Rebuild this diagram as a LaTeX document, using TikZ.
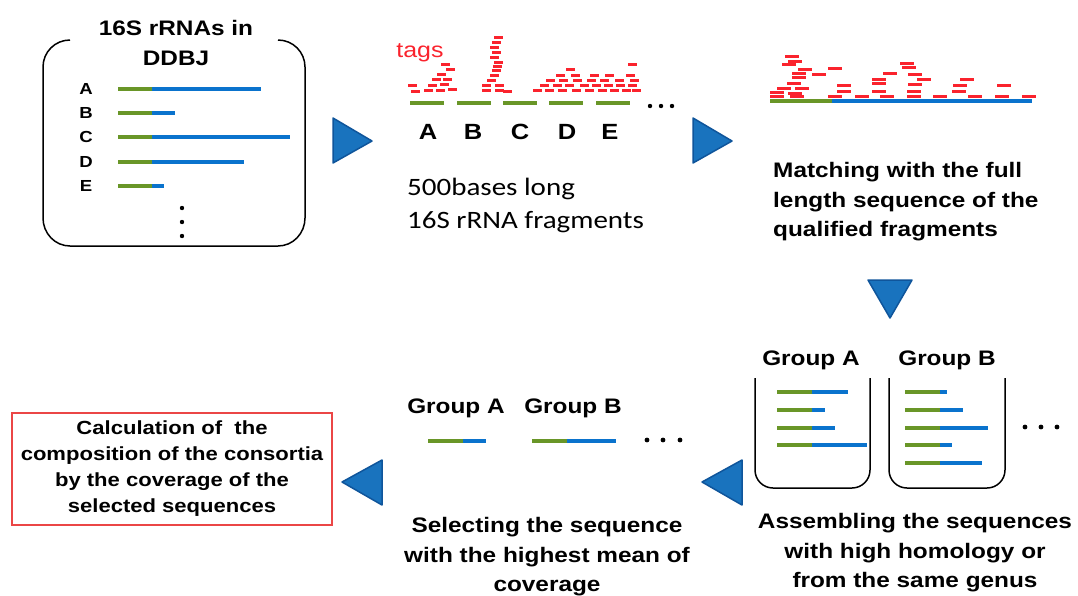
\documentclass[tikz,border=0pt]{standalone}
\usepackage{fontspec}
\setmainfont[FakeStretch=1.16]{Liberation Sans}
\newfontfamily\calfont[FakeStretch=1.16]{Carlito}
\usepackage{xcolor}
\usepackage{tikz}

\definecolor{seqgreen}{RGB}{105,150,40}
\definecolor{seqblue}{RGB}{10,115,205}
\definecolor{tagred}{RGB}{250,35,45}
\definecolor{boxred}{RGB}{235,70,70}
\definecolor{triblue}{RGB}{25,115,190}
\definecolor{triedge}{RGB}{15,85,155}

\begin{document}
\begin{tikzpicture}[x=1pt,y=-1pt,line width=0.4pt,
  seq/.style={line width=4pt},
  tag/.style={tagred,line width=3pt},
  tri/.style={fill=triblue,draw=triedge,line width=1.5pt,line join=round},
  lbl/.style={inner sep=0pt,align=center,font=\bfseries\fontsize{21}{29.5}\selectfont}]
  \useasboundingbox (0,0) rectangle (1078,595);

  % Database box (top left)
  \draw[line width=1.5pt] (70,40) to[out=180,in=90] (43,67) -- (43,218)
    to[out=-90,in=180] (70,246) -- (278,246) to[out=0,in=-90] (305,218)
    -- (305,67) to[out=90,in=0] (278,40);
  \node[lbl] (db) at (176,43) {16S rRNAs in\\DDBJ};
  \foreach \n/\y/\e in {A/89/261,B/113/175,C/137/290,D/162/244,E/186/164} {
    \node[inner sep=0pt,font=\bfseries\fontsize{16}{16}\selectfont] (db\n) at (86,\y) {\n};
    \draw[seq,seqgreen] (118,\y) -- (152,\y);
    \draw[seq,seqblue] (152,\y) -- (\e,\y);}
  \foreach \y in {208,222,236} {\fill (182,\y) circle (2.2pt);}

  % Fragments with tags
  \node[inner sep=0pt,text=tagred,font=\fontsize{21.5}{21.5}\selectfont] (tagtxt) at (420,53) {tags};
  \foreach \x/\y in {408/85,411/91,424/90,436/90,448/89,428/85,440/84,432/79,443/79,437/74,446/69,441/64,
      482/90,482/85,495/90,495/85,487/80,490/75,492/70,493/66,494/62,490/57,492/52,490/47,492/42,494/37,503/91,
      533/90,545/90,558/90,572/90,585/90,598/90,610/90,622/90,632/90,
      540/85,553/85,565/85,580/85,592/85,604/85,616/85,628/85,
      546/80,559/80,573/80,587/80,600/80,615/80,630/80,
      556/75,571/75,590/75,605/75,626/75,566/69,628/64} {
    \draw[tag] (\x,\y) -- ++(9,0);}
  \foreach \a/\n/\lx in {410/A/428,457/B/473,503/C/520,549/D/567,596/E/610} {
    \draw[seq,seqgreen] (\a,103) -- ++(34,0);
    \node[inner sep=0pt,font=\bfseries\fontsize{22}{22}\selectfont] (frag\n) at (\lx,132) {\n};}
  \foreach \x in {650,661,672} {\fill (\x,106) circle (2.2pt);}
  \node[inner sep=0pt,anchor=west,align=left,font=\calfont\fontsize{25}{33}\selectfont]
    (frags) at (407,205) {500bases long\\16S rRNA fragments};

  % Matching with the full length sequence
  \foreach \x/\y in {785/56,788/61,782/64,798/69,828/68,792/73,812/74,883/73,900/63,902/67,908/74,
      792/77,872/79,917/79,960/79,787/83,837/85,872/83,908/84,953/85,997/85,
      777/88,795/88,837/91,872/91,907/91,952/91,770/92,788/93,
      770/96,790/96,828/96,855/96,880/96,907/96,933/96,968/96,995/96,1022/96} {
    \draw[tag] (\x,\y) -- ++(14,0);}
  \draw[seq,seqgreen] (770,101) -- (832,101);
  \draw[seq,seqblue] (832,101) -- (1032,101);
  \node[lbl,anchor=west,align=left] (match) at (773,202)
    {Matching with the full\\length sequence of the\\qualified fragments};

  % Grouping
  \node[lbl] (grpA) at (811,360) {Group A};
  \node[lbl] (grpB) at (947,360) {Group B};
  \draw[line width=1.5pt,rounded corners=18pt] (755,378) -- (755,488) -- (870,488) -- (870,378);
  \draw[line width=1.5pt,rounded corners=18pt] (889,378) -- (889,488) -- (1005,488) -- (1005,378);
  \foreach \y/\e in {392/848,410/825,428/835,445/867} {
    \draw[seq,seqgreen] (777,\y) -- (812,\y);
    \draw[seq,seqblue] (812,\y) -- (\e,\y);}
  \foreach \y/\e in {392/947,410/963,428/988,445/952,463/982} {
    \draw[seq,seqgreen] (905,\y) -- (940,\y);
    \draw[seq,seqblue] (940,\y) -- (\e,\y);}
  \foreach \x in {1025,1041,1057} {\fill (\x,427) circle (2.4pt);}
  \node[lbl] (assem) at (915,553) {Assembling the sequences\\with high homology or\\from the same genus};

  % Selecting
  \node[lbl] (selA) at (456,408) {Group A};
  \node[lbl] (selB) at (573,408) {Group B};
  \draw[seq,seqgreen] (428,441) -- (463,441);
  \draw[seq,seqblue] (463,441) -- (486,441);
  \draw[seq,seqgreen] (532,441) -- (567,441);
  \draw[seq,seqblue] (567,441) -- (616,441);
  \foreach \x in {647,663,680} {\fill (\x,440) circle (2.4pt);}
  \node[lbl] (select) at (547,557) {Selecting the sequence\\with the highest mean of\\coverage};

  % Calculation
  \node[draw=boxred,line width=1.3pt,minimum width=320pt,minimum height=112pt,align=center,
    font=\bfseries\fontsize{19}{26}\selectfont] (calc) at (172,469)
    {Calculation of \ the\\composition of the consortia\\by the coverage of the\\selected sequences};

  % Step arrows
  \filldraw[tri] (333,118) -- (372,141) -- (333,163) -- cycle;
  \filldraw[tri] (693,118) -- (732,141) -- (693,163) -- cycle;
  \filldraw[tri] (868,280) -- (912,280) -- (890,318) -- cycle;
  \filldraw[tri] (742,460) -- (702,482) -- (742,505) -- cycle;
  \filldraw[tri] (382,460) -- (342,482) -- (382,505) -- cycle;
\end{tikzpicture}
\end{document}
